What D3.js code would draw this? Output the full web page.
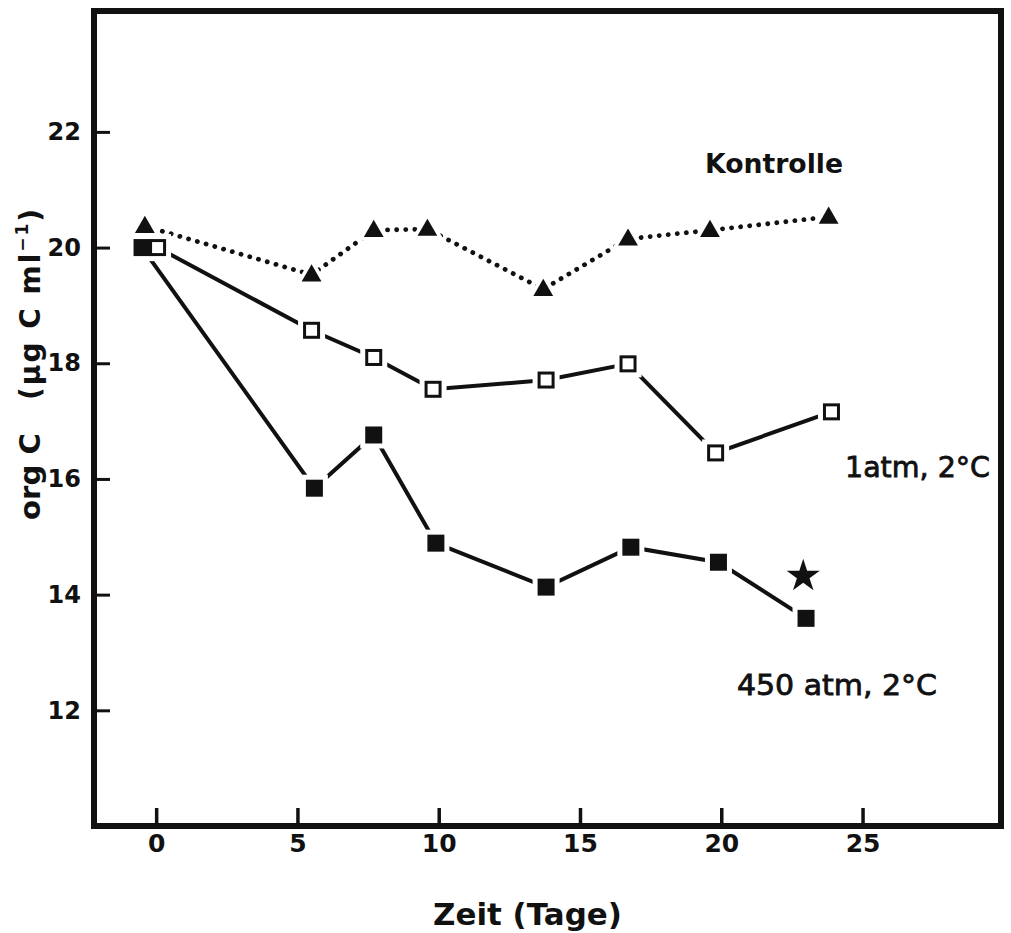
<!DOCTYPE html>
<html>
<head>
<meta charset="utf-8">
<script src="https://cdn.jsdelivr.net/npm/d3@7"></script>
<style>
  html, body { margin: 0; padding: 0; background: #fff; }
  svg { display: block; }
</style>
</head>
<body>
<svg id="chart" width="1011" height="933"></svg>
<script>
// Organic carbon over time for three incubation treatments
const daysKontrolle = [-0.4, 5.5, 7.7, 9.6, 13.7, 16.7, 19.6, 23.8];
const kontrolle     = [20.37, 19.53, 20.30, 20.32, 19.28, 20.15, 20.30, 20.53];

const days1atm = [0.05, 5.5, 7.7, 9.8, 13.8, 16.7, 19.8, 23.9];
const atm1     = [20.0, 18.57, 18.1, 17.55, 17.71, 17.99, 16.45, 17.16];

const days450 = [-0.5, 5.6, 7.7, 9.9, 13.8, 16.8, 19.9, 23.0];
const atm450  = [20.0, 15.84, 16.76, 14.89, 14.13, 14.82, 14.56, 13.59];

const xTicks = [0, 5, 10, 15, 20, 25];
const yTicks = [12, 14, 16, 18, 20, 22];

// significance marker next to the last 450 atm sample
const starDay = 22.9, starValue = 14.32;

const svg = d3.select("#chart");
const frame = { left: 94, right: 1001, top: 11, bottom: 826 };

const x = d3.scaleLinear().domain([-2.2, 29.9]).range([frame.left, frame.right]);
const y = d3.scaleLinear().domain([10, 24.09]).range([frame.bottom, frame.top]);

const ink = "#111";

// y axis: ticks point into the plot, labels on the left
const yAxis = svg.append("g")
  .attr("transform", `translate(${frame.left},0)`)
  .call(d3.axisLeft(y).tickValues(yTicks).tickSize(-16).tickPadding(13).tickFormat(d3.format("d")));
yAxis.select(".domain").remove();
yAxis.selectAll(".tick line").attr("stroke", ink).attr("stroke-width", 3);
yAxis.selectAll(".tick text")
  .attr("fill", ink)
  .style("font-family", "'DejaVu Sans', sans-serif")
  .style("font-weight", "bold")
  .style("font-size", "24px");

// x axis: short upward ticks
const xAxis = svg.append("g")
  .attr("transform", `translate(0,${frame.bottom})`)
  .call(d3.axisBottom(x).tickValues(xTicks).tickSize(-18).tickPadding(8).tickFormat(d3.format("d")));
xAxis.select(".domain").remove();
xAxis.selectAll(".tick line").attr("stroke", ink).attr("stroke-width", 3.5);
xAxis.selectAll(".tick text")
  .attr("fill", ink)
  .style("font-family", "'DejaVu Sans', sans-serif")
  .style("font-weight", "bold")
  .style("font-size", "25px");

// plot frame
svg.append("rect")
  .attr("x", frame.left).attr("y", frame.top)
  .attr("width", frame.right - frame.left).attr("height", frame.bottom - frame.top)
  .attr("fill", "none").attr("stroke", ink).attr("stroke-width", 6);

const line = d3.line().x(d => x(d[0])).y(d => y(d[1]));
const zip = (a, b) => a.map((v, i) => [v, b[i]]);

const sKontrolle = zip(daysKontrolle, kontrolle);
const s1atm = zip(days1atm, atm1);
const s450 = zip(days450, atm450);

// connecting lines
svg.append("path").datum(sKontrolle).attr("d", line)
  .attr("fill", "none").attr("stroke", ink).attr("stroke-width", 4.8)
  .attr("stroke-linecap", "round").attr("stroke-dasharray", "0.1 9");
svg.append("path").datum(s1atm).attr("d", line)
  .attr("fill", "none").attr("stroke", ink).attr("stroke-width", 4);
svg.append("path").datum(s450).attr("d", line)
  .attr("fill", "none").attr("stroke", ink).attr("stroke-width", 4);

// white halos leave a small gap between lines and markers
const sq = 17, tri = d3.symbol().type(d3.symbolTriangle).size(170);
const halo = svg.append("g");
halo.selectAll("rect.h450").data(s450).join("rect")
  .attr("x", d => x(d[0]) - sq / 2 - 5).attr("y", d => y(d[1]) - sq / 2 - 5)
  .attr("width", sq + 10).attr("height", sq + 10).attr("fill", "#fff");
halo.selectAll("rect.h1").data(s1atm).join("rect")
  .attr("x", d => x(d[0]) - sq / 2 - 5).attr("y", d => y(d[1]) - sq / 2 - 5)
  .attr("width", sq + 10).attr("height", sq + 10).attr("fill", "#fff");
halo.selectAll("path.ht").data(sKontrolle).join("path")
  .attr("d", d3.symbol().type(d3.symbolTriangle).size(460)())
  .attr("transform", d => `translate(${x(d[0])},${y(d[1]) + 1})`)
  .attr("fill", "#fff");

// markers
svg.append("g").selectAll("rect").data(s450).join("rect")
  .attr("x", d => x(d[0]) - sq / 2).attr("y", d => y(d[1]) - sq / 2)
  .attr("width", sq).attr("height", sq).attr("fill", ink);
svg.append("g").selectAll("rect").data(s1atm).join("rect")
  .attr("x", d => x(d[0]) - (sq - 3) / 2).attr("y", d => y(d[1]) - (sq - 3) / 2)
  .attr("width", sq - 3).attr("height", sq - 3)
  .attr("fill", "#fff").attr("stroke", ink).attr("stroke-width", 3);
svg.append("g").selectAll("path").data(sKontrolle).join("path")
  .attr("d", tri())
  .attr("transform", d => `translate(${x(d[0])},${y(d[1]) + 1})`)
  .attr("fill", ink);

// star
svg.append("path")
  .attr("d", d3.symbol().type(d3.symbolStar).size(340)())
  .attr("transform", `translate(${x(starDay)},${y(starValue)})`)
  .attr("fill", ink);

// series labels
svg.append("text").attr("x", 705).attr("y", 173).text("Kontrolle")
  .attr("textLength", 138).attr("lengthAdjust", "spacingAndGlyphs")
  .attr("fill", ink)
  .style("font-family", "'DejaVu Sans', sans-serif").style("font-weight", "bold").style("font-size", "26px");

const seriesLabel = (tx, ty, str, len) => svg.append("text")
  .attr("x", tx).attr("y", ty).text(str)
  .attr("textLength", len).attr("lengthAdjust", "spacingAndGlyphs")
  .attr("fill", ink).attr("stroke", ink).attr("stroke-width", 0.8)
  .style("font-family", "'DejaVu Sans', sans-serif").style("font-size", "28px");
seriesLabel(845, 477, "1atm, 2°C", 145);
seriesLabel(737, 695, "450 atm, 2°C", 200);

// axis titles
svg.append("text").attr("x", 433).attr("y", 925).text("Zeit (Tage)")
  .attr("textLength", 189).attr("lengthAdjust", "spacingAndGlyphs")
  .attr("fill", ink)
  .style("font-family", "'DejaVu Sans', sans-serif").style("font-weight", "bold").style("font-size", "30px");

const yTitle = svg.append("g").attr("transform", "translate(40,520) rotate(-90)");
yTitle.append("text").attr("x", 0).attr("y", 0).text("org C")
  .attr("textLength", 87).attr("lengthAdjust", "spacingAndGlyphs")
  .attr("fill", ink)
  .style("font-family", "'DejaVu Sans', sans-serif").style("font-weight", "bold").style("font-size", "28px");
const unit = yTitle.append("text").attr("x", 120).attr("y", 0)
  .attr("fill", ink)
  .style("font-family", "'DejaVu Sans', sans-serif").style("font-weight", "bold").style("font-size", "28px")
  .style("letter-spacing", "2px");
unit.append("tspan").text("(µg C ml");
unit.append("tspan").attr("dy", -12).style("font-size", "17px").text("−1");
unit.append("tspan").attr("dy", 12).text(")");
</script>
</body>
</html>
